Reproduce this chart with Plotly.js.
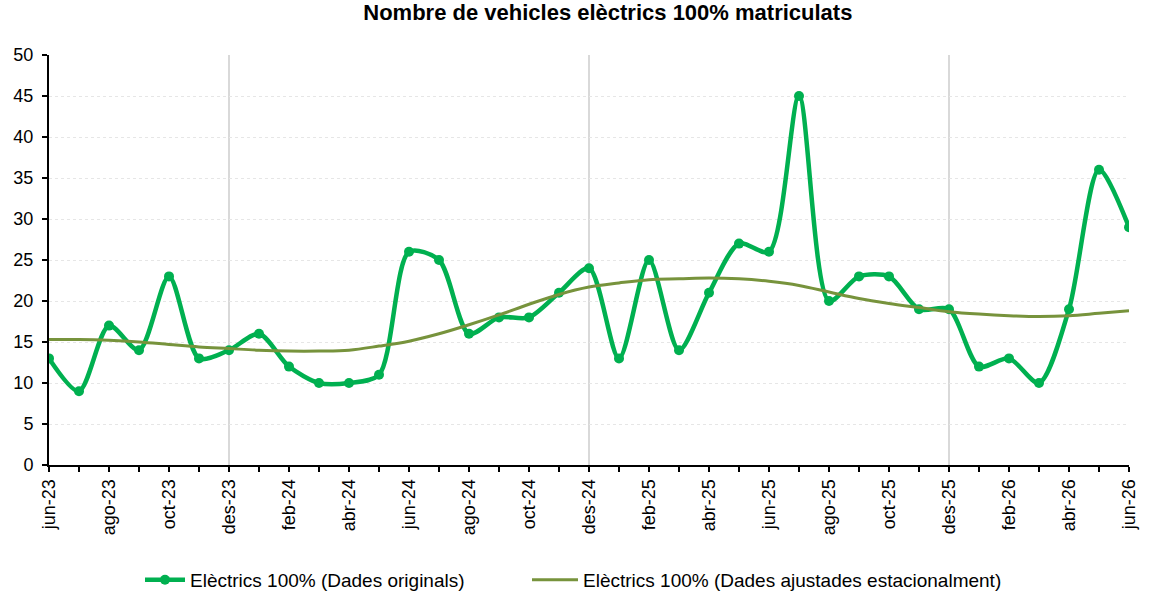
<!DOCTYPE html>
<html>
<head>
<meta charset="utf-8">
<script src="https://cdn.plot.ly/plotly-3.0.1.min.js"></script>
<style>html,body{margin:0;padding:0;background:#fff;}#chart{width:1149px;height:599px;}</style>
</head>
<body>
<div id="chart"></div>
<script>
const months = ['jun-23','jul-23','ago-23','set-23','oct-23','nov-23','des-23','gen-24','feb-24','mar-24','abr-24','mai-24',
  'jun-24','jul-24','ago-24','set-24','oct-24','nov-24','des-24','gen-25','feb-25','mar-25','abr-25','mai-25',
  'jun-25','jul-25','ago-25','set-25','oct-25','nov-25','des-25','gen-26','feb-26','mar-26','abr-26','mai-26','jun-26'];
const original = [13,9,17,14,23,13,14,16,12,10,10,11,
  26,25,16,18,18,21,24,13,25,14,21,27,
  26,45,20,23,23,19,19,12,13,10,19,36,29];
const adjusted = [15.3,15.3,15.2,15.0,14.7,14.4,14.2,14.0,13.9,13.9,14.0,14.5,
  15.1,16.0,17.1,18.3,19.6,20.8,21.7,22.2,22.6,22.7,22.8,22.7,
  22.4,21.9,21.1,20.3,19.7,19.2,18.7,18.4,18.2,18.1,18.2,18.5,18.8];
const yearBreaks = ['des-23','des-24','des-25'];
const seriesNames = ['Elèctrics 100% (Dades originals)','Elèctrics 100% (Dades ajustades estacionalment)'];
const chartTitle = 'Nombre de vehicles elèctrics 100% matriculats';

const xIdx = months.map((m,i)=>i);
const tickText = months.map((m,i)=> i%2===0 ? m : '');

const traces = [
  {x: xIdx, y: original, name: seriesNames[0], type:'scatter', mode:'lines+markers', legend:'legend',
   line:{color:'#00B050', width:4.5, shape:'spline', smoothing:0.8},
   marker:{color:'#00B050', size:10}},
  {x: xIdx, y: adjusted, name: seriesNames[1], type:'scatter', mode:'lines', legend:'legend2',
   line:{color:'#77933C', width:3, shape:'spline', smoothing:1}}
];

const shapes = yearBreaks.map(m => ({type:'line', xref:'x', yref:'paper',
  x0: months.indexOf(m), x1: months.indexOf(m), y0:0, y1:1,
  line:{color:'#D9D9D9', width:2}, layer:'below'}));

const legendBase = {orientation:'h', xref:'container', yref:'container', xanchor:'left', y:0.032, yanchor:'middle',
  font:{size:19}, bgcolor:'rgba(0,0,0,0)'};

const layout = {
  width:1149, height:599,
  margin:{l:49, r:20, t:55, b:134},
  paper_bgcolor:'#fff', plot_bgcolor:'#fff',
  font:{family:'Liberation Sans, Arial, sans-serif', color:'#000', size:18},
  title:{text:'<b>'+chartTitle+'</b>', font:{size:22, family:'Liberation Sans, Arial, sans-serif'},
    xref:'container', x:0.529, xanchor:'center', yref:'container', y:0.992, yanchor:'top'},
  xaxis:{range:[0, months.length-1], tickmode:'array', tickvals:xIdx, ticktext:tickText,
    tickangle:-90, ticks:'outside', ticklen:5, tickwidth:1.5, tickcolor:'#000',
    showline:true, linecolor:'#000', linewidth:2, showgrid:false, zeroline:false,
    tickfont:{size:18}, fixedrange:true, automargin:false},
  yaxis:{range:[0,50], dtick:5, ticks:'outside', ticklen:5, tickwidth:1.5, tickcolor:'#000',
    showline:true, linecolor:'#000', linewidth:2, showgrid:true, gridcolor:'#E6E6E6', griddash:'dot', gridwidth:1,
    zeroline:false, tickfont:{size:18}, ticklabelstandoff:5, fixedrange:true, automargin:false},
  shapes: shapes,
  showlegend:true,
  legend: Object.assign({}, legendBase, {x:140/1149, itemwidth:40}),
  legend2: Object.assign({}, legendBase, {x:527/1149, itemwidth:46})
};

Plotly.newPlot('chart', traces, layout, {displayModeBar:false, staticPlot:true});
</script>
</body>
</html>
